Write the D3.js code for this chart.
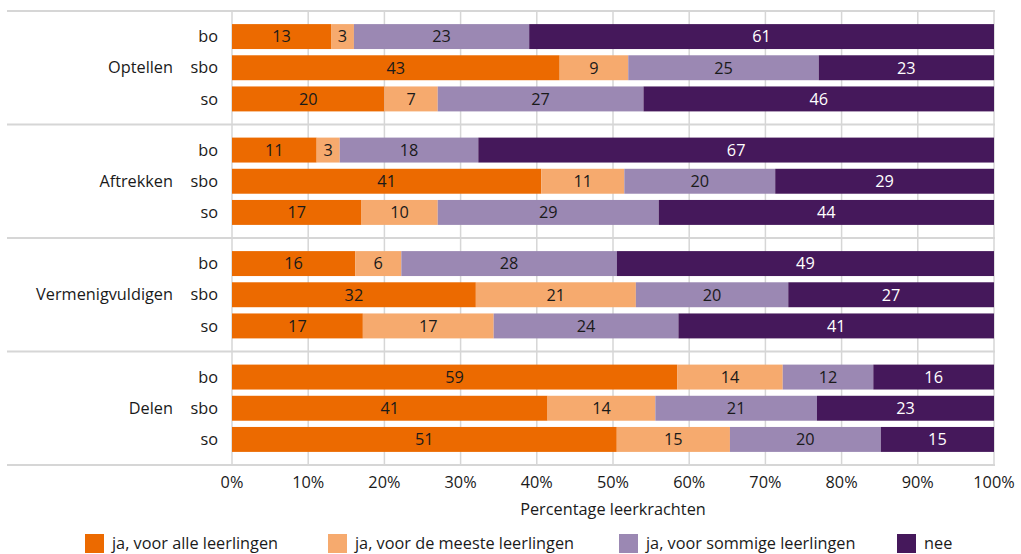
<!DOCTYPE html>
<html><head><meta charset="utf-8">
<script src="https://cdn.jsdelivr.net/npm/d3@7"></script>
<style>
body{margin:0;background:#fff;}
text{font-family:"Open Sans","Noto Sans",sans-serif;}
</style></head>
<body><svg id="c" width="1021" height="554"></svg>
<script>
const groups = ["Optellen","Aftrekken","Vermenigvuldigen","Delen"];
const schools = ["bo","sbo","so"];
const seriesNames = ["ja, voor alle leerlingen","ja, voor de meeste leerlingen","ja, voor sommige leerlingen","nee"];
const colors = ["#ec6a00","#f6aa6e","#9b88b3","#45185b"];
const labelColors = ["#1a1a1a","#1a1a1a","#1a1a1a","#ffffff"];
// values per row: [alle, meeste, sommige, nee]
const optellen = [[13,3,23,61],[43,9,25,23],[20,7,27,46]];
const aftrekken = [[11,3,18,67],[41,11,20,29],[17,10,29,44]];
const vermenigvuldigen = [[16,6,28,49],[32,21,20,27],[17,17,24,41]];
const delen = [[59,14,12,16],[41,14,21,23],[51,15,20,15]];
const xTicks = [0,10,20,30,40,50,60,70,80,90,100];
const xTitle = "Percentage leerkrachten";

const data = [optellen, aftrekken, vermenigvuldigen, delen];
const svg = d3.select("#c");
const fs = 16.3;
const mLeft = 232, mRight = 994, mTop = 11, mBottom = 465;
const x = d3.scaleLinear().domain([0,100]).range([mLeft,mRight]);
const yG = d3.scaleBand().domain(groups).range([mTop,mBottom]).paddingInner(0).paddingOuter(0);
const yR = d3.scaleBand().domain(schools).range([0,yG.bandwidth()]).paddingInner(0.2).paddingOuter(0.42);

// vertical gridlines
svg.append("g").selectAll("line").data(xTicks).join("line")
  .attr("x1",d=>x(d)).attr("x2",d=>x(d)).attr("y1",mTop).attr("y2",mBottom)
  .attr("stroke","#d6d6d6").attr("stroke-width",1.5);
// horizontal separators
const seps = groups.map(g=>yG(g)).concat([mBottom]);
svg.append("g").selectAll("line").data(seps).join("line")
  .attr("x1",7).attr("x2",mRight+1).attr("y1",d=>d).attr("y2",d=>d)
  .attr("stroke","#d6d6d6").attr("stroke-width",2);

groups.forEach((g,gi)=>{
  const gg = svg.append("g").attr("transform",`translate(0,${yG(g)})`);
  gg.append("text").attr("x",173).attr("y",yG.bandwidth()/2).attr("dy","0.35em")
    .attr("text-anchor","end").attr("font-size",fs).attr("fill","#1a1a1a").text(g);
  schools.forEach((s,si)=>{
    const vals = data[gi][si];
    const total = d3.sum(vals);
    let cum = 0;
    const yy = yR(s);
    gg.append("text").attr("x",218).attr("y",yy+yR.bandwidth()/2).attr("dy","0.35em")
      .attr("text-anchor","end").attr("font-size",fs).attr("fill","#1a1a1a").text(s);
    vals.forEach((v,k)=>{
      const x0 = x(cum/total*100), x1 = x((cum+v)/total*100);
      cum += v;
      gg.append("rect").attr("x",x0).attr("y",yy).attr("width",x1-x0).attr("height",yR.bandwidth())
        .attr("fill",colors[k]);
      gg.append("text").attr("x",(x0+x1)/2).attr("y",yy+yR.bandwidth()/2).attr("dy","0.36em")
        .attr("text-anchor","middle").attr("font-size",fs).attr("fill",labelColors[k]).text(v);
    });
  });
});

// x axis labels
svg.append("g").selectAll("text").data(xTicks).join("text")
  .attr("x",d=>x(d)).attr("y",482).attr("dy","0.35em").attr("text-anchor","middle")
  .attr("font-size",fs).attr("fill","#1a1a1a").text(d=>d+"%");
svg.append("text").attr("x",(mLeft+mRight)/2).attr("y",509).attr("dy","0.35em").attr("text-anchor","middle")
  .attr("font-size",fs).attr("fill","#1a1a1a").text(xTitle);

// legend
const legX = [85,328,619,897];
const lg = svg.append("g").selectAll("g").data(seriesNames).join("g")
  .attr("transform",(d,i)=>`translate(${legX[i]},534)`);
lg.append("rect").attr("width",19).attr("height",19).attr("fill",(d,i)=>colors[i]);
lg.append("text").attr("x",27).attr("y",9.5).attr("dy","0.35em").attr("font-size",fs)
  .attr("fill","#1a1a1a").text(d=>d);
</script></body></html>
